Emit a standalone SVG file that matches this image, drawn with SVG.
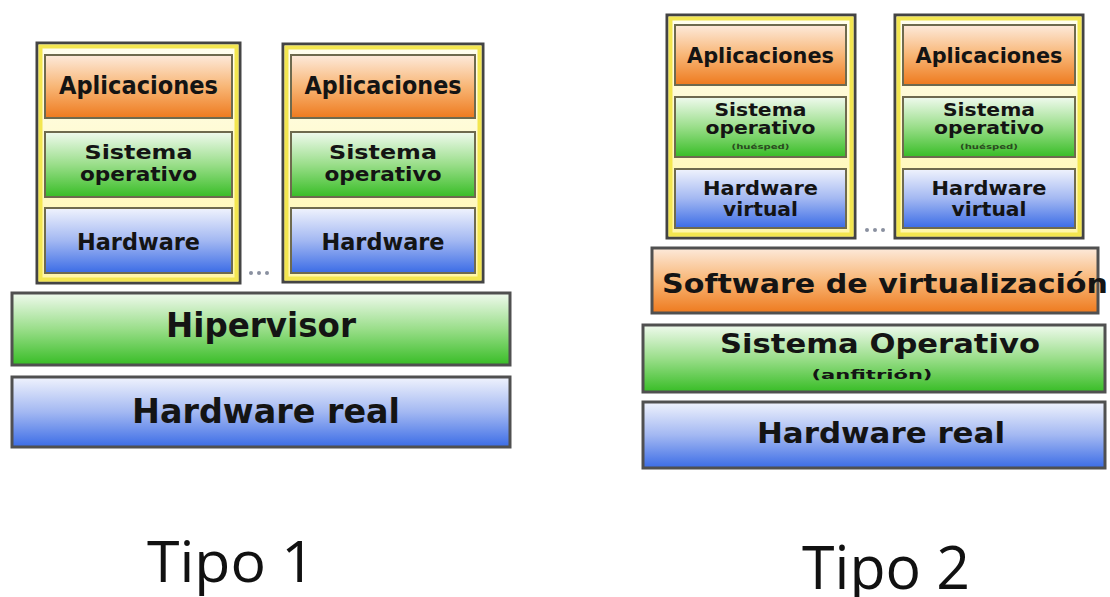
<svg xmlns="http://www.w3.org/2000/svg" width="1110" height="597" viewBox="0 0 1110 597">
  <defs>
    <linearGradient id="gOrange" x1="0" y1="0" x2="0" y2="1">
      <stop offset="0" stop-color="#fdeadb"/>
      <stop offset="0.5" stop-color="#f8b676"/>
      <stop offset="1" stop-color="#ee7a1e"/>
    </linearGradient>
    <linearGradient id="gGreen" x1="0" y1="0" x2="0" y2="1">
      <stop offset="0" stop-color="#f0faee"/>
      <stop offset="0.5" stop-color="#9ade8a"/>
      <stop offset="1" stop-color="#38bd26"/>
    </linearGradient>
    <linearGradient id="gBlue" x1="0" y1="0" x2="0" y2="1">
      <stop offset="0" stop-color="#f0f3fd"/>
      <stop offset="0.5" stop-color="#a3b8f2"/>
      <stop offset="1" stop-color="#3b6ce6"/>
    </linearGradient>
    <linearGradient id="gFrame" x1="0" y1="0" x2="0" y2="1">
      <stop offset="0" stop-color="#fffef0"/>
      <stop offset="1" stop-color="#fff6a8"/>
    </linearGradient>
  </defs>
  <style>
    .frame { fill: url(#gFrame); stroke: #444; stroke-width: 3; }
    .frameIn { fill: none; stroke: #f3e650; stroke-width: 4; }
    .box { stroke: #6e6a4e; stroke-width: 2; }
    .layer { stroke: #505050; stroke-width: 3; }
    .or { fill: url(#gOrange); }
    .gr { fill: url(#gGreen); }
    .bl { fill: url(#gBlue); }
    .t { font-family: "DejaVu Sans", "Liberation Sans", sans-serif; font-weight: bold; fill: #141414; text-anchor: middle; }
    .small { font-family: "DejaVu Sans", "Liberation Sans", sans-serif; font-weight: bold; fill: #2a4a20; text-anchor: middle; }
    .cap { font-family: "Open Sans", "Liberation Sans", sans-serif; fill: #111; }
    .dot { fill: #8a90a0; }
  </style>

  <!-- Tipo 1: bare-metal hypervisor -->
  <g id="t1-vm1">
    <rect class="frame" x="37" y="43" width="203" height="240"/>
    <rect class="frameIn" x="40.5" y="46.5" width="196" height="233"/>
    <rect class="box or" x="45" y="55" width="187" height="63"/>
    <text class="t" x="138.5" y="94" font-size="24" textLength="159" lengthAdjust="spacingAndGlyphs">Aplicaciones</text>
    <rect class="box gr" x="45" y="132" width="187" height="65"/>
    <text class="t" x="138.5" y="159" font-size="20" textLength="108" lengthAdjust="spacingAndGlyphs">Sistema</text>
    <text class="t" x="138.5" y="181" font-size="20" textLength="117" lengthAdjust="spacingAndGlyphs">operativo</text>
    <rect class="box bl" x="45" y="208" width="187" height="65"/>
    <text class="t" x="138.5" y="250" font-size="23" textLength="123" lengthAdjust="spacingAndGlyphs">Hardware</text>
  </g>
  <g id="t1-vm2">
    <rect class="frame" x="283" y="44" width="200" height="238"/>
    <rect class="frameIn" x="286.5" y="47.5" width="193" height="231"/>
    <rect class="box or" x="291" y="55" width="184" height="63"/>
    <text class="t" x="383" y="94" font-size="24" textLength="157" lengthAdjust="spacingAndGlyphs">Aplicaciones</text>
    <rect class="box gr" x="291" y="132" width="184" height="65"/>
    <text class="t" x="383" y="159" font-size="20" textLength="108" lengthAdjust="spacingAndGlyphs">Sistema</text>
    <text class="t" x="383" y="181" font-size="20" textLength="117" lengthAdjust="spacingAndGlyphs">operativo</text>
    <rect class="box bl" x="291" y="208" width="184" height="65"/>
    <text class="t" x="383" y="250" font-size="23" textLength="123" lengthAdjust="spacingAndGlyphs">Hardware</text>
  </g>
  <g id="t1-dots">
    <circle class="dot" cx="251" cy="273" r="2"/>
    <circle class="dot" cx="259" cy="273" r="2"/>
    <circle class="dot" cx="267" cy="273" r="2"/>
  </g>
  <g id="t1-hipervisor">
    <rect class="layer gr" x="12" y="293" width="498" height="72"/>
    <text class="t" x="261" y="337" font-size="34" textLength="190" lengthAdjust="spacingAndGlyphs">Hipervisor</text>
  </g>
  <g id="t1-hardware">
    <rect class="layer bl" x="12" y="377" width="498" height="70"/>
    <text class="t" x="266" y="423" font-size="34" textLength="268" lengthAdjust="spacingAndGlyphs">Hardware real</text>
  </g>
  <text id="t1-label" class="cap" x="147" y="582" font-size="57" textLength="168" lengthAdjust="spacingAndGlyphs">Tipo 1</text>

  <!-- Tipo 2: hosted hypervisor -->
  <g id="t2-vm1">
    <rect class="frame" x="667" y="15" width="188" height="223"/>
    <rect class="frameIn" x="670.5" y="18.5" width="181" height="216"/>
    <rect class="box or" x="675" y="25" width="171" height="60"/>
    <text class="t" x="760.5" y="63" font-size="22" textLength="147" lengthAdjust="spacingAndGlyphs">Aplicaciones</text>
    <rect class="box gr" x="675" y="97" width="171" height="60"/>
    <text class="t" x="760.5" y="116" font-size="18" textLength="92" lengthAdjust="spacingAndGlyphs">Sistema</text>
    <text class="t" x="760.5" y="134" font-size="18" textLength="110" lengthAdjust="spacingAndGlyphs">operativo</text>
    <text class="small" x="760.5" y="149" font-size="7" textLength="58" lengthAdjust="spacingAndGlyphs">(huésped)</text>
    <rect class="box bl" x="675" y="169" width="171" height="59"/>
    <text class="t" x="760.5" y="195" font-size="20" textLength="115" lengthAdjust="spacingAndGlyphs">Hardware</text>
    <text class="t" x="760.5" y="216" font-size="20" textLength="75" lengthAdjust="spacingAndGlyphs">virtual</text>
  </g>
  <g id="t2-vm2">
    <rect class="frame" x="895" y="15" width="188" height="223"/>
    <rect class="frameIn" x="898.5" y="18.5" width="181" height="216"/>
    <rect class="box or" x="903" y="25" width="172" height="60"/>
    <text class="t" x="989" y="63" font-size="22" textLength="147" lengthAdjust="spacingAndGlyphs">Aplicaciones</text>
    <rect class="box gr" x="903" y="97" width="172" height="60"/>
    <text class="t" x="989" y="116" font-size="18" textLength="92" lengthAdjust="spacingAndGlyphs">Sistema</text>
    <text class="t" x="989" y="134" font-size="18" textLength="110" lengthAdjust="spacingAndGlyphs">operativo</text>
    <text class="small" x="989" y="149" font-size="7" textLength="58" lengthAdjust="spacingAndGlyphs">(huésped)</text>
    <rect class="box bl" x="903" y="169" width="172" height="59"/>
    <text class="t" x="989" y="195" font-size="20" textLength="115" lengthAdjust="spacingAndGlyphs">Hardware</text>
    <text class="t" x="989" y="216" font-size="20" textLength="75" lengthAdjust="spacingAndGlyphs">virtual</text>
  </g>
  <g id="t2-dots">
    <circle class="dot" cx="867" cy="230" r="2"/>
    <circle class="dot" cx="875" cy="230" r="2"/>
    <circle class="dot" cx="883" cy="230" r="2"/>
  </g>
  <g id="t2-software">
    <rect class="layer or" x="652" y="248" width="446" height="65"/>
    <text class="t" x="662" y="293" font-size="27" style="text-anchor:start" textLength="446" lengthAdjust="spacingAndGlyphs">Software de virtualización</text>
  </g>
  <g id="t2-so">
    <rect class="layer gr" x="643" y="325" width="462" height="67"/>
    <text class="t" x="880" y="353" font-size="27" textLength="320" lengthAdjust="spacingAndGlyphs">Sistema Operativo</text>
    <text class="t" x="872" y="379" font-size="13" textLength="121" lengthAdjust="spacingAndGlyphs">(anfitrión)</text>
  </g>
  <g id="t2-hardware">
    <rect class="layer bl" x="643" y="402" width="462" height="66"/>
    <text class="t" x="881" y="443" font-size="28" textLength="248" lengthAdjust="spacingAndGlyphs">Hardware real</text>
  </g>
  <text id="t2-label" class="cap" x="802" y="589" font-size="60" textLength="168" lengthAdjust="spacingAndGlyphs">Tipo 2</text>
</svg>
